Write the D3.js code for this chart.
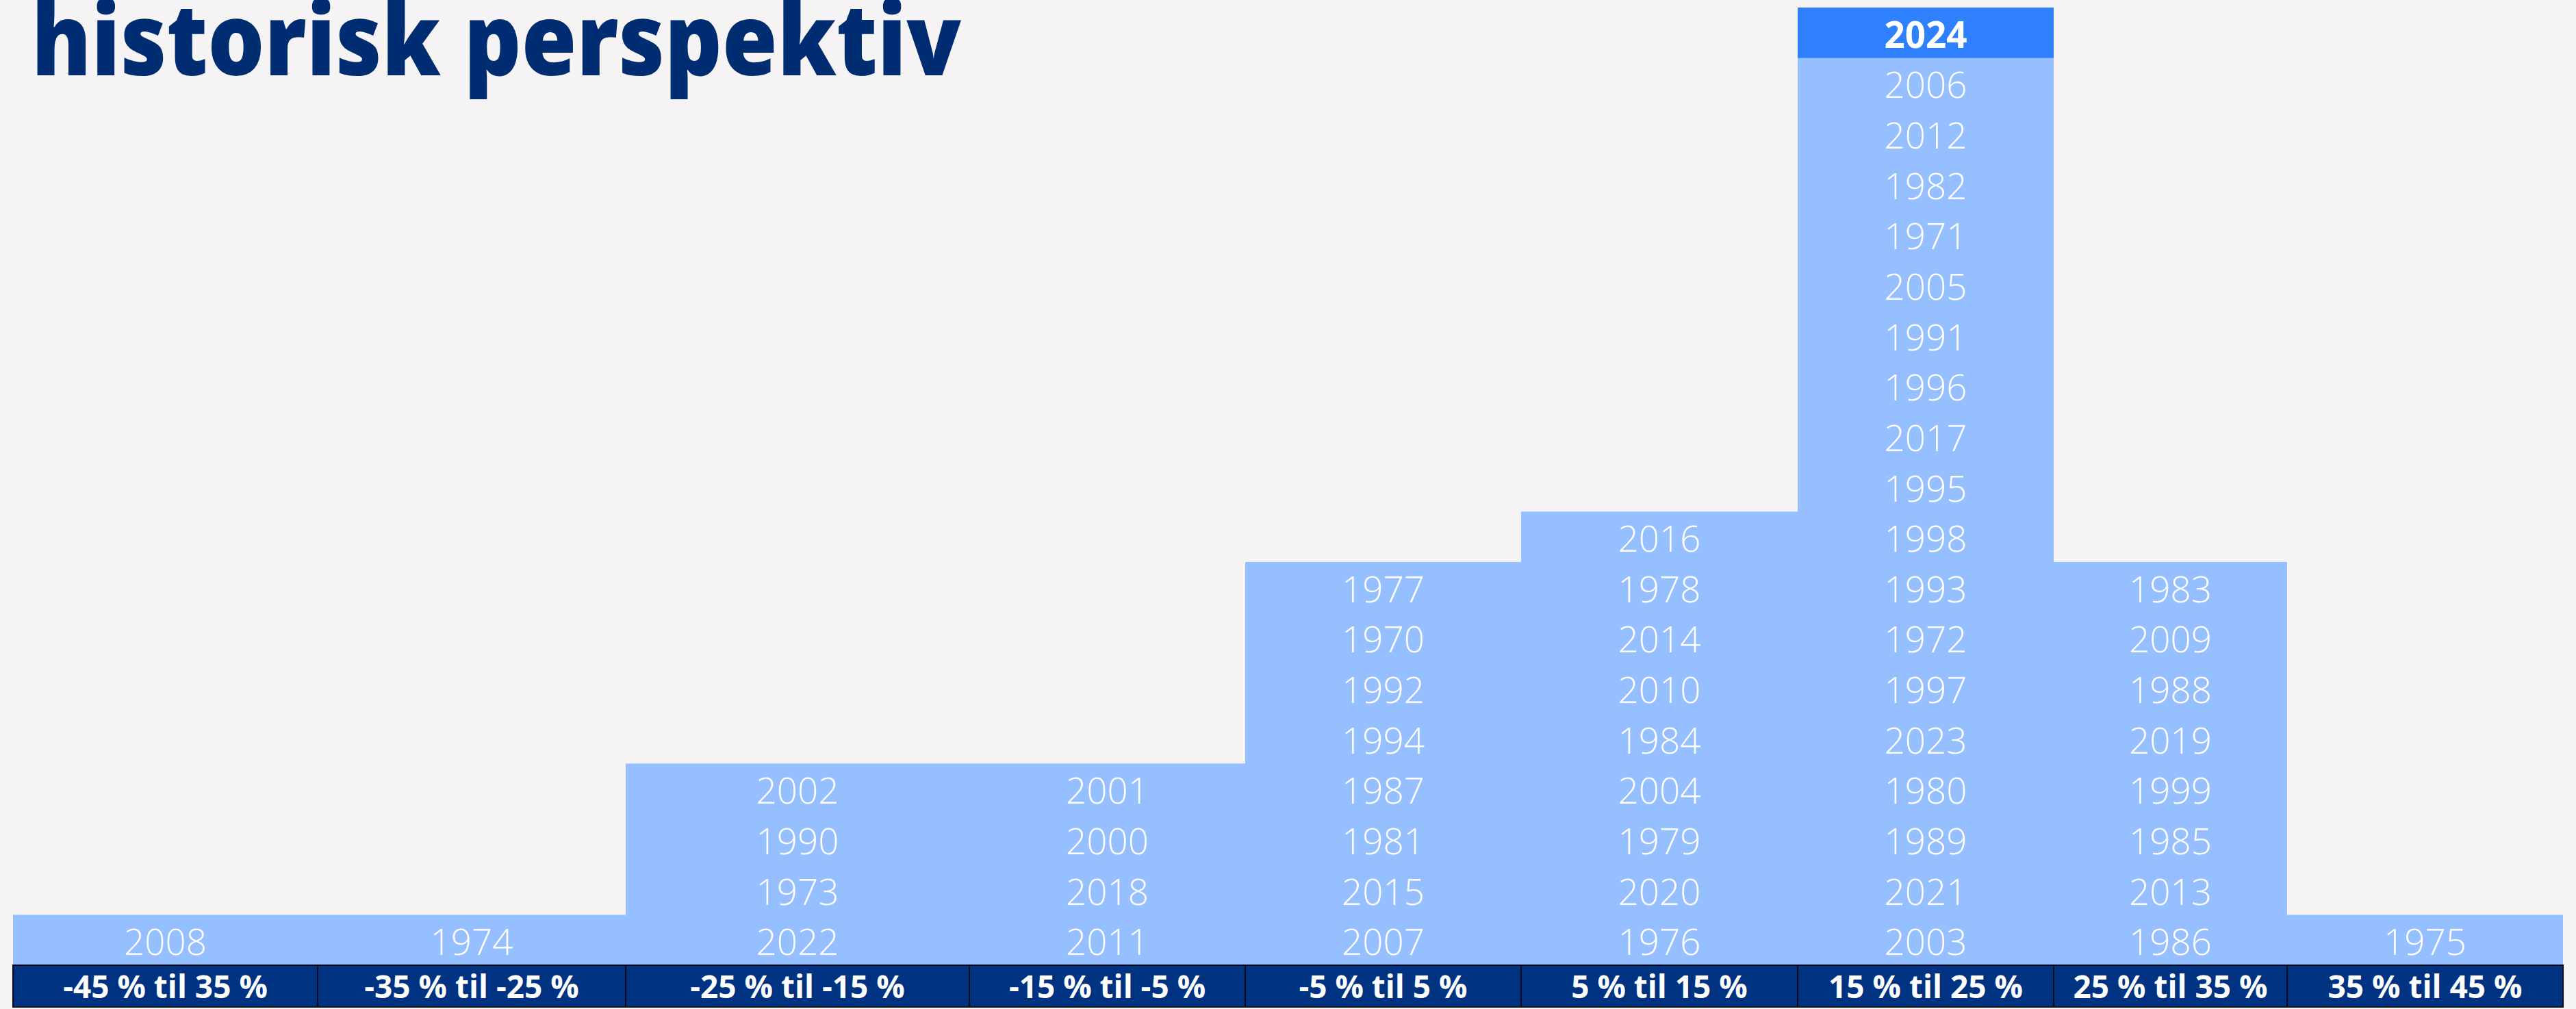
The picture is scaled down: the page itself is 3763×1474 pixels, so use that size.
<!DOCTYPE html>
<html>
<head>
<meta charset="utf-8">
<script src="https://cdn.jsdelivr.net/npm/d3@7"></script>
<style>
  html, body { margin: 0; padding: 0; background: #f5f3f3; overflow: hidden; }
  svg { display: block; }
</style>
</head>
<body>
<script>
// ---- Data ----
const titleText = "historisk perspektiv";
const binLabels = ["-45 % til 35 %", "-35 % til -25 %", "-25 % til -15 %", "-15 % til -5 %",
  "-5 % til 5 %", "5 % til 15 %", "15 % til 25 %", "25 % til 35 %", "35 % til 45 %"];
// Years in each bin, listed from top of stack to bottom
const bin1 = ["2008"];
const bin2 = ["1974"];
const bin3 = ["2002", "1990", "1973", "2022"];
const bin4 = ["2001", "2000", "2018", "2011"];
const bin5 = ["1977", "1970", "1992", "1994", "1987", "1981", "2015", "2007"];
const bin6 = ["2016", "1978", "2014", "2010", "1984", "2004", "1979", "2020", "1976"];
const bin7 = ["2024", "2006", "2012", "1982", "1971", "2005", "1991", "1996", "2017", "1995",
  "1998", "1993", "1972", "1997", "2023", "1980", "1989", "2021", "2003"];
const bin8 = ["1983", "2009", "1988", "2019", "1999", "1985", "2013", "1986"];
const bin9 = ["1975"];
const highlightYear = "2024";

const bins = [bin1, bin2, bin3, bin4, bin5, bin6, bin7, bin8, bin9];

// ---- Layout ----
const W = 3763, H = 1474;
const colEdges = [19, 464, 914, 1416, 1819, 2222, 2626, 3000, 3341, 3744];
const x = d3.scaleLinear().domain(d3.range(colEdges.length)).range(colEdges);
const maxRows = d3.max(bins, b => b.length);
const y = d3.scaleLinear().domain([0, maxRows]).range([1410, 11]);
const barTop = 1410, barBottom = 1471;

const svg = d3.select("body").append("svg").attr("width", W).attr("height", H);
svg.append("rect").attr("width", W).attr("height", H).attr("fill", "#f5f3f3");

// cells
const cells = [];
bins.forEach((b, i) => {
  const n = b.length;
  b.forEach((yr, j) => {
    const level = n - 1 - j; // 0 = bottom
    cells.push({ bin: i, year: yr, level });
  });
});

// column backgrounds
svg.append("g").selectAll("rect").data(bins).join("rect")
  .attr("x", (d, i) => x(i))
  .attr("width", (d, i) => x(i + 1) - x(i))
  .attr("y", d => y(d.length))
  .attr("height", d => y(0) - y(d.length))
  .attr("fill", "#96bfff");

// highlighted cell
svg.append("g").selectAll("rect").data(cells.filter(c => c.year === highlightYear)).join("rect")
  .attr("x", d => x(d.bin))
  .attr("width", d => x(d.bin + 1) - x(d.bin))
  .attr("y", d => y(d.level + 1))
  .attr("height", d => y(d.level) - y(d.level + 1))
  .attr("fill", "#2e80ff");

// year labels
svg.append("g").selectAll("text").data(cells).join("text")
  .attr("x", d => (x(d.bin) + x(d.bin + 1)) / 2)
  .attr("y", d => (y(d.level) + y(d.level + 1)) / 2 + 22)
  .attr("text-anchor", "middle")
  .attr("font-family", "'Open Sans', sans-serif")
  .attr("font-weight", d => d.year === highlightYear ? 700 : 300)
  .attr("font-size", 53)
  .attr("fill", "#ffffff")
  .text(d => d.year);

// category bar
const gBar = svg.append("g");
gBar.selectAll("rect").data(binLabels).join("rect")
  .attr("x", (d, i) => x(i))
  .attr("width", (d, i) => x(i + 1) - x(i))
  .attr("y", barTop)
  .attr("height", barBottom - barTop)
  .attr("fill", "#003282")
  .attr("stroke", "#0a0a1a")
  .attr("stroke-width", 2);
gBar.selectAll("text").data(binLabels).join("text")
  .attr("x", (d, i) => (x(i) + x(i + 1)) / 2)
  .attr("y", (barTop + barBottom) / 2 + 17)
  .attr("text-anchor", "middle")
  .attr("font-family", "'Open Sans', sans-serif")
  .attr("font-weight", 700)
  .attr("font-size", 46)
  .attr("fill", "#ffffff")
  .text(d => d);
svg.append("line").attr("x1", x(0)).attr("x2", x(9)).attr("y1", barBottom).attr("y2", barBottom)
  .attr("stroke", "#111").attr("stroke-width", 2);

// title (top of the ascenders is cut by the top edge, as in the reference)
svg.append("text")
  .attr("x", 46)
  .attr("y", 110)
  .attr("font-family", "'Open Sans', sans-serif")
  .attr("font-weight", 800)
  .attr("font-size", 146)
  .attr("fill", "#002d72")
  .attr("textLength", 1358)
  .attr("lengthAdjust", "spacingAndGlyphs")
  .text(titleText);
</script>
</body>
</html>
